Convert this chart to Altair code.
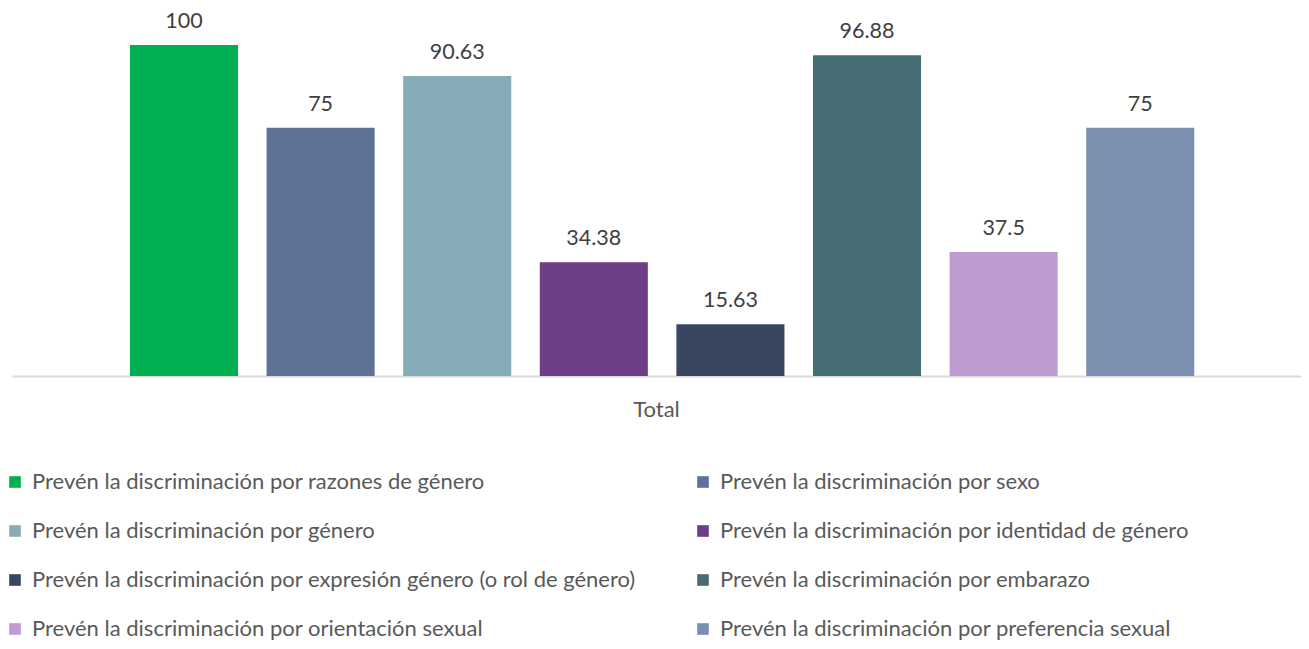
import altair as alt
import pandas as pd

categoria = ["Total"]
series = [
    "Prevén la discriminación por razones de género",
    "Prevén la discriminación por sexo",
    "Prevén la discriminación por género",
    "Prevén la discriminación por identidad de género",
    "Prevén la discriminación por expresión género (o rol de género)",
    "Prevén la discriminación por embarazo",
    "Prevén la discriminación por orientación sexual",
    "Prevén la discriminación por preferencia sexual",
]
valores = [100, 75, 90.63, 34.38, 15.63, 96.88, 37.5, 75]
colores = ["#00B050", "#5E7298", "#86ADB7", "#6E3F87", "#39465F", "#466D74", "#BD9DD1", "#7D8FB1"]

# legend is filled column by column: reorder so it reads row by row like the original
orden_leyenda = [0, 2, 4, 6, 1, 3, 5, 7]
dom_leyenda = [series[i] for i in orden_leyenda]
col_leyenda = [colores[i] for i in orden_leyenda]

df = pd.DataFrame({
    "cat": categoria * len(series),
    "serie": series,
    "valor": valores,
    "etiqueta": [f"{v:g}" for v in valores],
})

FONT = "Lato"

base = alt.Chart(df).encode(
    x=alt.X("cat:N", title=None,
            scale=alt.Scale(paddingInner=0, paddingOuter=0),
            axis=alt.Axis(labelFontSize=22, labelColor="#595959", labelFont=FONT,
                          domainColor="#D9D9D9", domainWidth=2, ticks=False,
                          labelPadding=23, labelAngle=0, grid=False)),
    xOffset=alt.XOffset("serie:N", sort=series,
                        scale=alt.Scale(paddingInner=0.209, paddingOuter=0.8225,
                                        align=0.525)),
    y=alt.Y("valor:Q", scale=alt.Scale(domain=[0, 100], nice=False), axis=None),
)

bars = base.mark_bar().encode(
    color=alt.Color("serie:N",
                    scale=alt.Scale(domain=dom_leyenda, range=col_leyenda),
                    legend=alt.Legend(orient="none", legendX=-8, legendY=426,
                                      columns=2, title=None, symbolType="square",
                                      symbolSize=135, symbolStrokeWidth=0,
                                      labelFontSize=22, labelColor="#595959",
                                      labelFont=FONT, rowPadding=27,
                                      columnPadding=56, labelLimit=1000,
                                      labelOffset=6))
)

labels = base.mark_text(baseline="bottom", dy=-12, fontSize=21.5, color="#404040",
                        font=FONT).encode(text="etiqueta:N")

chart = alt.layer(bars, labels).properties(
    width=1289, height=331,
    autosize=alt.AutoSizeParams(type="none"),
    padding={"left": 4, "top": 37, "right": 0, "bottom": 265},
).configure_view(stroke=None)

chart.save("out.html", embed_options={"renderer": "svg", "actions": False})
